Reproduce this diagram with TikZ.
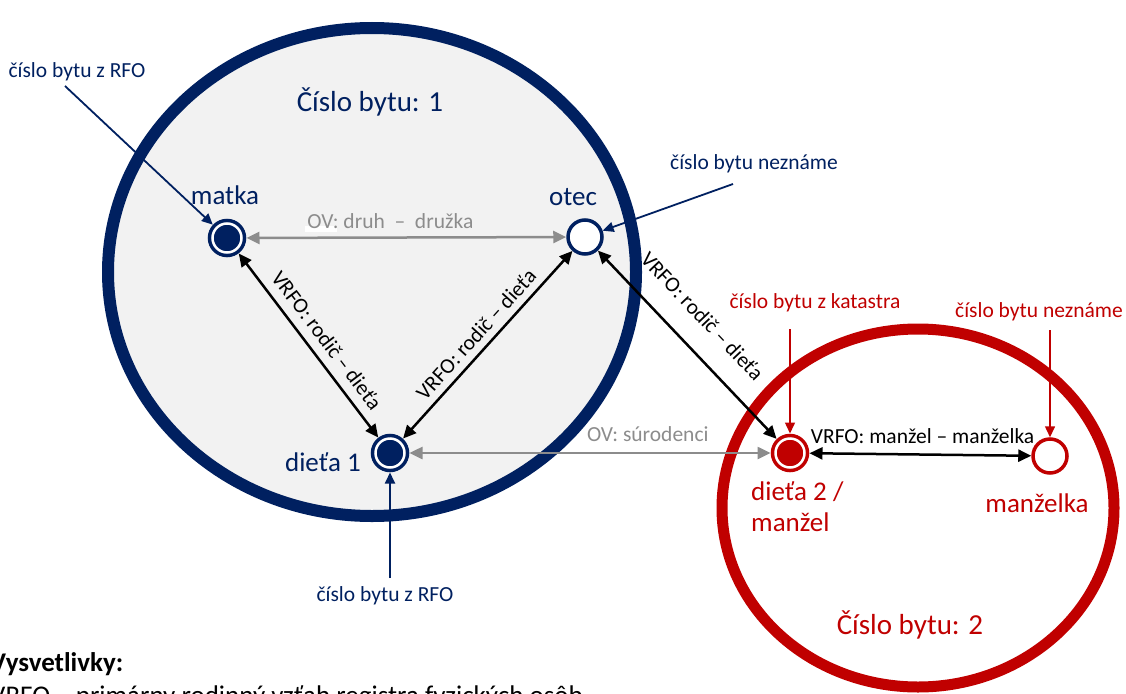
\documentclass[tikz,border=0pt]{standalone}
\usepackage{fontspec}
\setmainfont{Carlito}
\usetikzlibrary{arrows.meta}
\definecolor{navy}{HTML}{002060}
\definecolor{dred}{HTML}{C00000}
\definecolor{lgray}{HTML}{F2F2F2}
\definecolor{agray}{HTML}{8C8C8C}
\begin{document}
\begin{tikzpicture}[x=1pt,y=-1pt,
  sm/.style={font=\fontsize{21.5pt}{24pt}\selectfont, inner sep=1pt},
  nm/.style={font=\fontsize{27pt}{31pt}\selectfont, inner sep=0pt},
  hd/.style={font=\fontsize{29pt}{33pt}\selectfont, inner sep=0pt},
  dnode/.style={circle, inner sep=0pt, minimum size=29pt, fill=#1, draw=#1, double=white, double distance=2.5pt, line width=3.5pt, outer sep=5pt},
  onode/.style={circle, inner sep=0pt, minimum size=34pt, fill=white, draw=#1, line width=3.5pt},
  blk/.style={{Triangle[length=13pt,width=12pt]}-{Triangle[length=13pt,width=12pt]}, line width=2.5pt, black},
  gry/.style={{Triangle[length=13pt,width=12pt]}-{Triangle[length=13pt,width=12pt]}, line width=2.5pt, agray},
  callout/.style={-{Triangle[length=11pt,width=10pt]}, line width=1.8pt, #1}
]
\useasboundingbox (0,0) rectangle (1126,693);
% households
\draw[navy, line width=12pt, fill=lgray] (372,272) ellipse [x radius=264, y radius=244];
\draw[dred, line width=11pt] (918,508) ellipse [x radius=196, y radius=179];
\fill[white] (305,226) rectangle (337,232);
\node[hd, text=navy] (h1) at (370,102) {Číslo bytu: 1};
\node[hd, text=dred] (h2) at (910,625) {Číslo bytu: 2};
% persons
\node[dnode=navy] (matka) at (227,238) {};
\node[onode=navy] (otec) at (585,237) {};
\node[dnode=navy] (d1) at (390,453) {};
\node[dnode=dred] (d2) at (790,453) {};
\node[onode=dred] (manz) at (1050,456) {};
\node[nm, text=navy] (lmatka) at (225,195) {matka};
\node[nm, text=navy] (lotec) at (573,197) {otec};
\node[nm, text=navy] (ld1) at (323,462) {dieťa 1};
\node[nm, text=dred, anchor=west, align=left] (ld2) at (751,507) {dieťa 2 /\\manžel};
\node[nm, text=dred] (lmanz) at (1037,503) {manželka};
% relations
\draw[gry] (matka) -- node[sm, pos=0.45, above=7pt, text=agray] {OV: druh\ \ –\ \ družka} (otec);
\draw[gry] (d1) -- node[sm, pos=0.66, above=9pt, text=agray] {OV: súrodenci} (d2);
\draw[blk] (matka) -- node[sm, sloped, pos=0.53, above=8pt] {VRFO: rodič – dieťa} (d1);
\draw[blk] (d1) -- node[sm, sloped, pos=0.5, above=6pt] {VRFO: rodič – dieťa} (otec);
\draw[blk] (otec) -- node[sm, sloped, pos=0.46, above=21pt] {VRFO: rodič – dieťa} (d2);
\draw[blk] (d2) -- node[sm, pos=0.51, above=9pt] {VRFO: manžel – manželka} (manz);
% callouts
\node[sm, text=navy] (c1) at (77,72) {číslo bytu z RFO};
\coordinate (c1s) at (65,86);
\draw[callout=navy] (c1s) -- (matka);
\node[sm, text=navy] (c2) at (754,164) {číslo bytu neznáme};
\coordinate (c2s) at (733,184);
\draw[callout=navy] (c2s) -- (otec);
\node[sm, text=navy] (c3) at (385,596) {číslo bytu z RFO};
\coordinate (c3s) at (390,578);
\draw[callout=navy] (c3s) -- (d1);
\node[sm, text=dred] (c4) at (815,303) {číslo bytu z katastra};
\coordinate (c4s) at (790,329);
\draw[callout=dred, line width=1.5pt] (c4s) -- (d2);
\node[sm, text=dred] (c5) at (1039,312) {číslo bytu neznáme};
\coordinate (c5s) at (1050,330);
\draw[callout=dred, line width=1.5pt] (c5s) -- (manz);
% legend
\node[font=\fontsize{27pt}{31pt}\selectfont\bfseries, anchor=west, inner sep=0pt] (leg1) at (-10,664) {Vysvetlivky:};
\node[font=\fontsize{27pt}{31pt}\selectfont, anchor=west, inner sep=0pt] (leg2) at (-10,697) {VRFO – primárny rodinný vzťah registra fyzických osôb};
\end{tikzpicture}
\end{document}
